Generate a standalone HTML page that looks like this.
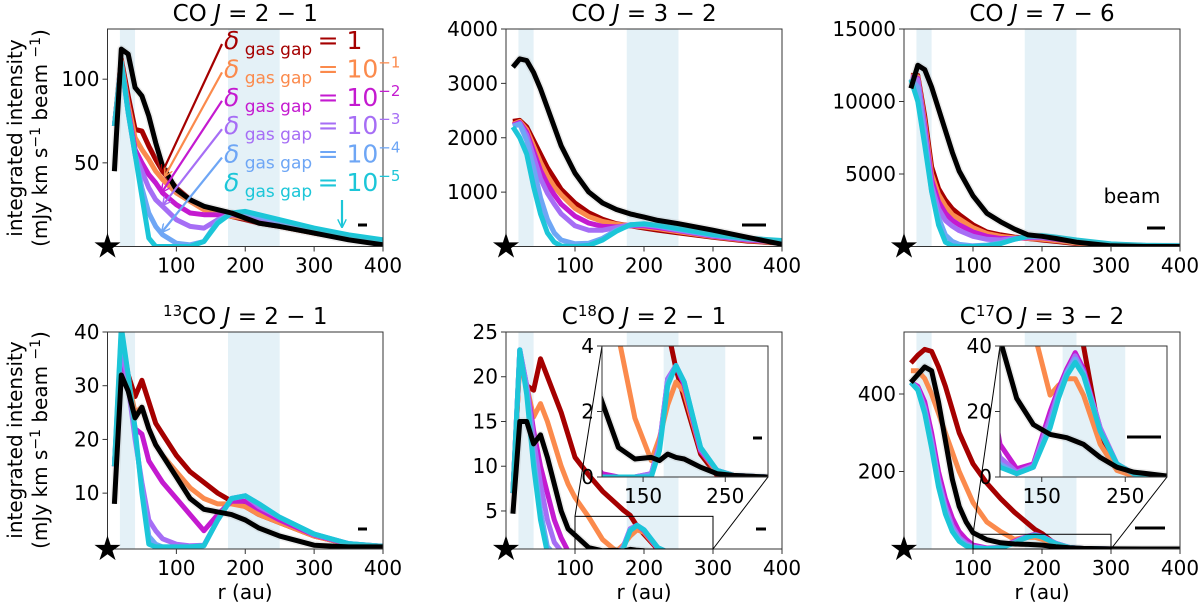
<!DOCTYPE html>
<html><head><meta charset="utf-8">
<style>
html,body{margin:0;padding:0;background:#fff;}
svg{display:block;font-family:"DejaVu Sans","Liberation Sans",sans-serif;}
</style></head>
<body>
<svg id="fig" width="1200" height="607" viewBox="0 0 1200 607" xmlns="http://www.w3.org/2000/svg">
  <text x="0" y="0" font-size="20" text-anchor="middle" transform="translate(22,138) rotate(-90)">integrated intensity</text>
  <text x="0" y="0" font-size="20" text-anchor="middle" transform="translate(47,138) rotate(-90)">(mJy km s<tspan dy="-7" font-size="14">−1</tspan><tspan dy="7"> beam </tspan><tspan dy="-7" font-size="14">−1</tspan><tspan dy="7">)</tspan></text>
  <text x="0" y="0" font-size="20" text-anchor="middle" transform="translate(22,440) rotate(-90)">integrated intensity</text>
  <text x="0" y="0" font-size="20" text-anchor="middle" transform="translate(47,440) rotate(-90)">(mJy km s<tspan dy="-7" font-size="14">−1</tspan><tspan dy="7"> beam </tspan><tspan dy="-7" font-size="14">−1</tspan><tspan dy="7">)</tspan></text>
  <text x="245" y="599" font-size="20" text-anchor="middle">r (au)</text>
  <text x="644" y="599" font-size="20" text-anchor="middle">r (au)</text>
  <text x="1042" y="599" font-size="20" text-anchor="middle">r (au)</text>
</svg>
<script>
const COLORS = ['#a50000','#fb8a4c','#c41ad0','#a66ef5','#6ea6f5','#1cc6d8','#000000'];
const SERIES_NAMES = ['delta-1','delta-1e-1','delta-1e-2','delta-1e-3','delta-1e-4','delta-1e-5','observed'];
const BANDS = [[18,40],[175,250]];

// ---- grids ----
const R1 = [10,20,30,40,50,60,70,80,100,120,140,160,180,200,220,250,300,350,400];
const R2 = [10,20,30,40,50,60,70,80,90,100,120,140,160,170,180,190,200,220,240,260,300,350,400];

// ---- CO 2-1 ----
const co21_red = [72,112,90,70,69,60,52,45,35,28,23,20,18,16,14,12,8,5,2];
const co21_orange = [72,111,85,65,58,52,45,40,32,27,22,20,18,17,15,12,8,5,2];
const co21_magenta = [72,110,82,58,50,43,38,32,25,20,19,19,19,18,16,13,9,5,2];
const co21_lavender = [72,110,80,55,45,35,28,24,16,12,11,16,19,19,17,14,9,6,3];
const co21_lightblue = [72,110,80,55,35,20,12,7,2,1,3,15,20,20,18,15,10,6,3];
const co21_cyan = [72,110,80,55,30,5,0,0,0,0,3,14,20,21,19,16,11,7,4];
const co21_black = [45,118,115,95,90,78,62,48,34,28,24,22,20,17,14,12,8,4,1];

// ---- CO 3-2 ----
const co32_red = [2300,2320,2200,1950,1700,1450,1250,1050,800,620,500,420,380,340,300,250,170,100,60];
const co32_orange = [2250,2300,2150,1850,1550,1300,1100,950,700,550,460,410,380,360,330,270,180,110,70];
const co32_magenta = [2230,2280,2100,1750,1400,1150,950,780,560,430,370,360,380,380,350,290,190,120,80];
const co32_lavender = [2220,2260,2050,1650,1250,980,780,600,380,300,300,350,400,400,370,300,200,130,90];
const co32_lightblue = [2210,2250,1950,1450,900,500,250,120,50,60,150,300,390,410,380,320,210,140,100];
const co32_cyan = [2200,2000,1700,1100,600,250,80,10,0,20,120,280,400,420,390,330,220,150,110];
const co32_black = [3300,3450,3420,3200,2900,2550,2200,1850,1350,1000,800,680,600,540,480,420,300,170,40];

// ---- CO 7-6 ----
const co76_red = [11800,11800,9000,5500,4000,3200,2600,2200,1500,1000,800,650,550,450,350,200,80,40,20];
const co76_orange = [11750,11700,8600,5000,3600,2800,2200,1900,1300,900,700,600,550,500,400,250,100,50,20];
const co76_magenta = [11700,11600,8300,4600,3100,2300,1800,1500,1000,700,550,550,600,600,500,330,130,60,30];
const co76_lavender = [11650,11500,8000,4200,2600,1800,1400,1100,700,500,450,550,650,650,550,370,150,70,35];
const co76_lightblue = [11600,11000,7500,3800,2000,800,350,150,50,100,250,500,700,700,600,400,160,70,40];
const co76_cyan = [11500,10000,7000,3800,1500,300,50,0,0,50,200,500,700,750,650,450,180,80,50];
const co76_black = [10900,12500,12200,11000,9500,8000,6500,5200,3500,2300,1700,1200,800,700,550,300,50,0,0];

// ---- 13CO 2-1 ----
const c13_red = [15,37,32,28,31,27,23,21,17,14,12,10,8.5,7.5,6,4.5,2,0.5,0.1];
const c13_orange = [15,36,31,25,26,22,19,17,14,11,9,8,8,7.5,6,4.5,2,0.5,0.1];
const c13_magenta = [15,36,30,22,21,16,14,12,9,6,3,6,8.5,8.5,7,5,2.2,0.5,0.1];
const c13_lavender = [15,38,30,20,12,5,3,1.5,0.5,0.2,0.3,5,9,9.5,7.5,5.5,2.3,0.6,0.1];
const c13_lightblue = [15,40,32,21,11,2,0.5,0,0,0,0.2,5,9,9.5,8,5.5,2.4,0.6,0.1];
const c13_cyan = [15,41,32,22,10,0.5,0,0,0,0,0.2,5,9,9.5,8,5.5,2.4,0.6,0.1];
const c13_black = [8,32,29,24,26,22,19,17,13,9,7,6.5,6,5,3.5,2,0.3,0,0];

// ---- C18O 2-1 ----
const c18_red = [7,22,19,18.5,22,20,18,16,13.5,11,9,7.2,5.8,5.1,4.5,3.3,2.4,0.7,0.05,0,0,0,0];
const c18_orange = [7,22,19,15.5,17,15,12.5,10,8,6.5,4.3,1.8,0.5,1.2,2.2,2.9,2.6,0.8,0.15,0.05,0,0,0];
const c18_magenta = [7,23,19,14,10,7,4,2,0.5,0.1,0,0,0.1,1,3,3.4,2.8,0.8,0.2,0.05,0,0,0];
const c18_lavender = [7,23,19,13,8,4,1.5,0.5,0.1,0,0,0,0.1,1,3,3.4,2.9,0.85,0.2,0.05,0,0,0];
const c18_lightblue = [7,23,18.5,11,5,1,0.2,0,0,0,0,0,0.05,0.9,2.9,3.4,2.9,0.9,0.2,0.05,0,0,0];
const c18_cyan = [7,23,18,10,4,0.3,0,0,0,0,0,0,0,0.8,2.8,3.4,2.9,0.9,0.2,0.05,0,0,0];
const c18_black = [4.7,15,15,12.5,13.5,11,8,5,3,2.3,0.9,0.55,0.6,0.5,0.7,0.6,0.55,0.3,0.1,0.05,0,0,0];

// ---- C17O 3-2 ----
const c17_red = [480,500,515,510,470,420,360,300,260,220,170,130,95,80,65,50,40,12,3,0.5,0,0,0];
const c17_orange = [460,460,440,400,350,300,250,200,160,120,70,45,25,28,30,30,25,10,2,0.3,0,0,0];
const c17_magenta = [430,420,380,300,200,130,80,45,25,10,2.5,4,20,27,33,38,33,15,4,1,0,0,0];
const c17_lavender = [430,415,365,280,180,110,60,30,15,6,1.5,3.5,18,26,32,37,32,15,4,1,0,0,0];
const c17_lightblue = [430,412,355,270,170,100,50,25,10,4,1,3,16,25,32,36,32,14,4,1,0,0,0];
const c17_cyan = [430,410,350,260,160,90,45,20,8,3,1,3,15,24,31,35,31,14,4,1,0,0,0];
const c17_black = [430,450,470,460,380,280,180,110,70,42,24,16,13,12.5,12,11,10,6,3,1.5,0.3,0.1,0];

// ---- tick labels ----
const XTICKS = [100,200,300,400];
const INSET_XTICKS = [150,250];
const yt_co21 = [50,100];
const yt_co32 = [1000,2000,3000,4000];
const yt_co76 = [5000,10000,15000];
const yt_c13 = [10,20,30,40];
const yt_c18 = [5,10,15,20,25];
const yt_c17 = [200,400];
const yt_c18_inset = [0,2,4];
const yt_c17_inset = [0,20,40];

const NS = 'http://www.w3.org/2000/svg';
const svg = document.getElementById('fig');
function mk(tag, attrs, parent){
  const e = document.createElementNS(NS, tag);
  for (const k in attrs) e.setAttribute(k, attrs[k]);
  (parent||svg).appendChild(e);
  return e;
}
let clipId = 0;

function drawAxes(p){
  const g = mk('g', {});
  
  
  const sx = v => p.L + (v - p.xlim[0]) / (p.xlim[1] - p.xlim[0]) * (p.R - p.L);
  const sy = v => p.B - (v - p.ylim[0]) / (p.ylim[1] - p.ylim[0]) * (p.B - p.T);
  const cid = 'clip' + (clipId++);
  const cp = mk('clipPath', {id: cid}, g);
  mk('rect', {x: p.L, y: p.T, width: p.R - p.L, height: p.B - p.T}, cp);
  if (p.inset) {
    const bg = mk('rect', {x: p.L, y: p.T, width: p.R - p.L, height: p.B - p.T, fill: '#fff'}, g);
    
    
  }
  const pg = mk('g', {'clip-path': 'url(#' + cid + ')'}, g);
  BANDS.forEach((b, i) => {
    const r = mk('rect', {x: sx(b[0]), y: p.T, width: sx(b[1]) - sx(b[0]), height: p.B - p.T, fill: '#e4f1f7'}, pg);
    
    
  });
  p.series.forEach((s, i) => {
    const pts = p.r.map((rv, j) => sx(rv).toFixed(1) + ',' + sy(s[j]).toFixed(1)).join(' ');
    if (i === 6) {
      const h = mk('polyline', {points: pts, fill: 'none', stroke: '#999', 'stroke-width': 8, 'stroke-opacity': 0.18, 'stroke-linejoin': 'round'}, pg);
      
      
    }
    const l = mk('polyline', {points: pts, fill: 'none', stroke: COLORS[i], 'stroke-width': 5, 'stroke-linejoin': 'round'}, pg);
    
    
  });
  const fr = mk('rect', {x: p.L, y: p.T, width: p.R - p.L, height: p.B - p.T, fill: 'none', stroke: '#333', 'stroke-width': 1}, g);
  
  
  p.xticks.forEach(t => {
    const x = sx(t);
    mk('line', {x1: x, x2: x, y1: p.B, y2: p.B + 5, stroke: '#333'}, g);
    const tx = mk('text', {x: x, y: p.B + 26, 'font-size': 20, 'text-anchor': 'middle'}, g);
    tx.textContent = t;
    
    
  });
  p.yticks.forEach(t => {
    const y = sy(t);
    mk('line', {x1: p.L - 5, x2: p.L, y1: y, y2: y, stroke: '#333'}, g);
    const tx = mk('text', {x: p.L - 8, y: y + 7, 'font-size': 20, 'text-anchor': 'end'}, g);
    tx.textContent = t;
    
    
  });
  if (!p.inset) {
    const st = mk('text', {x: p.L, y: p.B + 11, 'font-size': 34, 'text-anchor': 'middle'}, g);
    st.textContent = '★';
    
    
  }
  if (p.title) {
    const tt = mk('text', {x: (p.L + p.R) / 2, y: p.T - 8, 'font-size': 23, 'text-anchor': 'middle'}, g);
    tt.innerHTML = p.title;
    
    
  }
  p.sx = sx; p.sy = sy;
  return p;
}

function beam(x1, x2, y){
  const b = mk('line', {x1: x1, x2: x2, y1: y, y2: y, stroke: '#000', 'stroke-width': 3});
  
  
}

const J = '<tspan font-style="italic">J</tspan>';
drawAxes({name:'panel-co-2-1', L:107.5, R:383, T:29, B:246.5, xlim:[0,400], ylim:[0,130], r:R1,
  series:[co21_red,co21_orange,co21_magenta,co21_lavender,co21_lightblue,co21_cyan,co21_black],
  xticks:XTICKS, yticks:yt_co21, title:'CO '+J+' = 2 − 1'});
drawAxes({name:'panel-co-3-2', L:506, R:782, T:29, B:246.5, xlim:[0,400], ylim:[0,4000], r:R1,
  series:[co32_red,co32_orange,co32_magenta,co32_lavender,co32_lightblue,co32_cyan,co32_black],
  xticks:XTICKS, yticks:yt_co32, title:'CO '+J+' = 3 − 2'});
drawAxes({name:'panel-co-7-6', L:904, R:1180, T:29, B:246.5, xlim:[0,400], ylim:[0,15000], r:R1,
  series:[co76_red,co76_orange,co76_magenta,co76_lavender,co76_lightblue,co76_cyan,co76_black],
  xticks:XTICKS, yticks:yt_co76, title:'CO '+J+' = 7 − 6'});
drawAxes({name:'panel-13co-2-1', L:107.5, R:383, T:332, B:549, xlim:[0,400], ylim:[-0.4,40], r:R1,
  series:[c13_red,c13_orange,c13_magenta,c13_lavender,c13_lightblue,c13_cyan,c13_black],
  xticks:XTICKS, yticks:yt_c13, title:'<tspan dy="-8" font-size="15">13</tspan><tspan dy="8">CO </tspan>'+J+' = 2 − 1'});
const p5 = drawAxes({name:'panel-c18o-2-1', L:506, R:782, T:332, B:549, xlim:[0,400], ylim:[0.75,25], r:R2,
  series:[c18_red,c18_orange,c18_magenta,c18_lavender,c18_lightblue,c18_cyan,c18_black],
  xticks:XTICKS, yticks:yt_c18, title:'C<tspan dy="-8" font-size="15">18</tspan><tspan dy="8">O </tspan>'+J+' = 2 − 1'});
const p6 = drawAxes({name:'panel-c17o-3-2', L:904, R:1180, T:332, B:549, xlim:[0,400], ylim:[0,560], r:R2,
  series:[c17_red,c17_orange,c17_magenta,c17_lavender,c17_lightblue,c17_cyan,c17_black],
  xticks:XTICKS, yticks:yt_c17, title:'C<tspan dy="-8" font-size="15">17</tspan><tspan dy="8">O </tspan>'+J+' = 3 − 2'});

function indicator(p, ins, ytop){
  const x1 = p.sx(100), x2 = p.sx(300), yt = p.sy(ytop), yb = p.B;
  const r = mk('rect', {x: x1, y: yt, width: x2 - x1, height: yb - yt, fill: 'none', stroke: '#000', 'stroke-width': 1});
  
  
  const a = mk('line', {x1: x1, y1: yt, x2: ins.L, y2: ins.T, stroke: '#000', 'stroke-width': 1});
  
  
  const b = mk('line', {x1: x2, y1: yb, x2: ins.R, y2: ins.B, stroke: '#000', 'stroke-width': 1});
  
  
}
const ins5 = {L:602, R:768, T:346, B:477};
const ins6 = {L:1000, R:1167, T:346, B:477};
indicator(p5, ins5, 4.4);
indicator(p6, ins6, 38);
drawAxes({name:'inset-c18o', inset:true, L:ins5.L, R:ins5.R, T:ins5.T, B:ins5.B, xlim:[100,302], ylim:[0,4], r:R2,
  series:[c18_red,c18_orange,c18_magenta,c18_lavender,c18_lightblue,c18_cyan,c18_black],
  xticks:INSET_XTICKS, yticks:yt_c18_inset});
drawAxes({name:'inset-c17o', inset:true, L:ins6.L, R:ins6.R, T:ins6.T, B:ins6.B, xlim:[100,300], ylim:[0,40], r:R2,
  series:[c17_red,c17_orange,c17_magenta,c17_lavender,c17_lightblue,c17_cyan,c17_black],
  xticks:INSET_XTICKS, yticks:yt_c17_inset});

beam(358,367,225); beam(742,766,225); beam(1147,1165,228);
beam(358,367,529); beam(756,766,529); beam(753,762,438);
beam(1135,1165,528); beam(1127,1161,437);
const bt = mk('text', {x: 1132, y: 203, 'font-size': 20, 'text-anchor': 'middle'});
bt.textContent = 'beam';



const LEG_VALS = ['1','10<tspan dy="-10" font-size="15">−1</tspan>','10<tspan dy="-10" font-size="15">−2</tspan>','10<tspan dy="-10" font-size="15">−3</tspan>','10<tspan dy="-10" font-size="15">−4</tspan>','10<tspan dy="-10" font-size="15">−5</tspan>'];
const ARROW_TIPS = [[162,173],[165,176],[162,192],[163,205],[162,232]];
const defs = mk('defs', {});
COLORS.forEach((c, i) => {
  const m = mk('marker', {id: 'ah' + i, viewBox: '0 0 10 10', refX: 9, refY: 5, markerWidth: 4, markerHeight: 4, orient: 'auto-start-reverse', markerUnits: 'strokeWidth'}, defs);
  mk('path', {d: 'M0,0 L10,5 L0,10', fill: 'none', stroke: c, 'stroke-width': 1.6}, m);
});
LEG_VALS.forEach((v, i) => {
  const yb = 49 + i * 28.4;
  const t = mk('text', {x: 224, y: yb, 'font-size': 25, fill: COLORS[i]});
  t.innerHTML = '<tspan font-style="italic">δ</tspan><tspan font-size="17" dy="6"> gas gap </tspan><tspan dy="-6">= ' + v + '</tspan>';
  
  
  let x1 = 222, y1 = yb - 5, x2, y2;
  if (i < 5) { x2 = ARROW_TIPS[i][0]; y2 = ARROW_TIPS[i][1]; }
  else { x1 = 342; y1 = 200; x2 = 342; y2 = 227; }
  const a = mk('line', {x1: x1, y1: y1, x2: x2, y2: y2, stroke: COLORS[i], 'stroke-width': 2.2, 'marker-end': 'url(#ah' + i + ')'});
  
  
});
</script>
</body></html>
